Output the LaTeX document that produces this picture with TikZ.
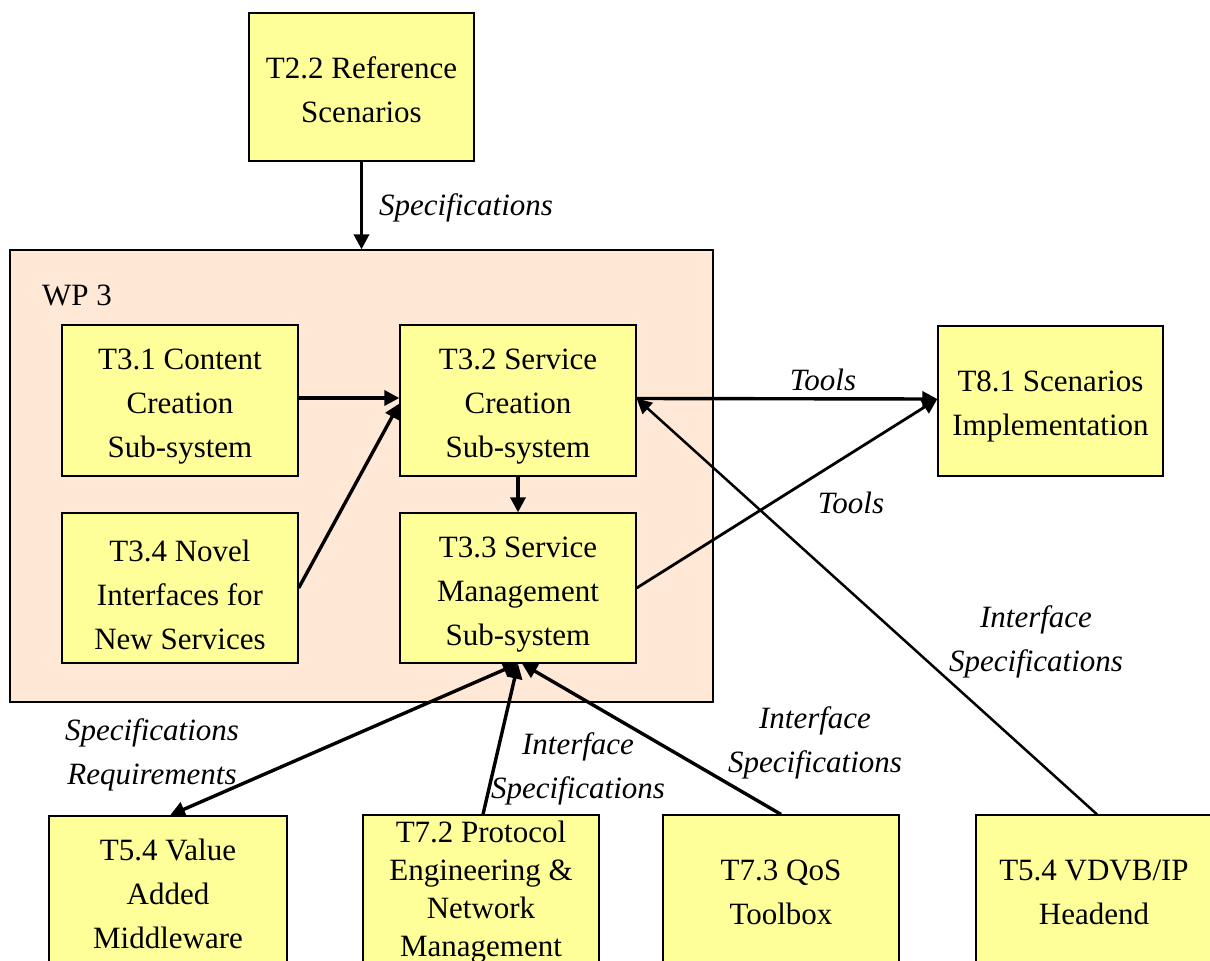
\documentclass[tikz,border=0pt]{standalone}
\usepackage{fontspec}
\setmainfont{Liberation Serif}
\usetikzlibrary{arrows.meta}
\definecolor{taskfill}{RGB}{255,255,153}
\definecolor{wpfill}{RGB}{255,233,214}
\begin{document}
\begin{tikzpicture}[x=1pt,y=-1pt,
  box/.style={draw=black, line width=1.3pt, fill=taskfill, minimum width=236pt,
    minimum height=150pt, inner sep=0pt},
  % box with its caption, the caption lowered by the first argument
  task/.style n args={2}{box, label={[align=center, inner sep=0pt,
    font=\fontsize{31}{44}\selectfont, yshift=-#1]center:#2}},
  tighttask/.style n args={2}{box, label={[align=center, inner sep=0pt,
    font=\fontsize{31}{38}\selectfont, yshift=-#1]center:#2}},
  lbl/.style={align=center, font=\fontsize{31}{44}\selectfont\itshape},
  tip/.tip={Triangle[length=15pt,width=15pt]},
  flow/.style={line width=3.4pt, -tip},
  thin flow/.style={line width=2.8pt, -tip}]
\useasboundingbox (0,0) rectangle (1210,961);
\clip (0,0) rectangle (1210,961);

% work package frame
\node[draw=black, line width=1.3pt, fill=wpfill, minimum width=703pt,
  minimum height=452pt, inner sep=0pt] (wp3) at (361.5,476) {};
\node[font=\fontsize{31}{44}\selectfont] (wplabel) at (77,295) {WP 3};

% task boxes
\node[task={3pt}{T2.2 Reference\\Scenarios}, minimum width=225pt, minimum height=148pt] (t22) at (361.5,87) {};
\node[task={6pt}{T3.1 Content\\Creation\\Sub-system}, minimum height=151pt] (t31) at (180,400.5) {};
\node[task={6pt}{T3.2 Service\\Creation\\Sub-system}, minimum height=151pt] (t32) at (518,400.5) {};
\node[task={7pt}{T3.4 Novel\\Interfaces for\\New Services}] (t34) at (180,588) {};
\node[task={7pt}{T3.3 Service\\Management\\Sub-system}] (t33) at (518,588) {};
\node[task={5pt}{T8.1 Scenarios\\Implementation}, minimum width=225pt] (t81) at (1050.5,401) {};
\node[task={3pt}{T5.4 Value\\Added\\Middleware}, minimum width=238pt] (b1) at (168,891) {};
\node[tighttask={2pt}{T7.2 Protocol\\Engineering \&\\Network\\Management}] (b2) at (481,890) {};
\node[task={2pt}{T7.3 QoS\\Toolbox}] (b3) at (781,890) {};
\node[task={2pt}{T5.4 VDVB/IP\\Headend}] (b4) at (1094,890) {};

% connectors
\draw[flow] (t22.south) -- (t22.south |- wp3.north);
\draw[flow] ([yshift=2.5pt]t31.east) -- ([yshift=2.5pt]t32.west);
\draw[flow] (t34.east) -- ([yshift=-3pt]t32.west);
\draw[flow] (t32.south) -- (t33.north);
\draw[flow] ([yshift=2pt]t32.east) -- ([yshift=2pt]t81.west);
\draw[thin flow] (t33.east) -- ([yshift=2pt]t81.west);
\draw[line width=2.5pt, -tip] ([xshift=3pt]b4.north) -- ([yshift=2pt]t32.east);
\draw[line width=3.4pt, tip-tip] ([xshift=2pt]b1.north) -- (t33.south);
\draw[flow] ([xshift=2pt]b2.north) -- (t33.south);
\draw[flow] (b3.north) -- ([xshift=4pt]t33.south);

% connector labels
\node[lbl] (l1) at (466,208) {Specifications};
\node[lbl] (l2) at (823,380) {Tools};
\node[lbl] (l3) at (851,503) {Tools};
\node[lbl] (l4) at (1036,642) {Interface\\Specifications};
\node[lbl] (l5) at (152,755) {Specifications\\Requirements};
\node[lbl] (l6) at (578,769) {Interface\\Specifications};
\node[lbl] (l7) at (815,743) {Interface\\Specifications};
\end{tikzpicture}
\end{document}
